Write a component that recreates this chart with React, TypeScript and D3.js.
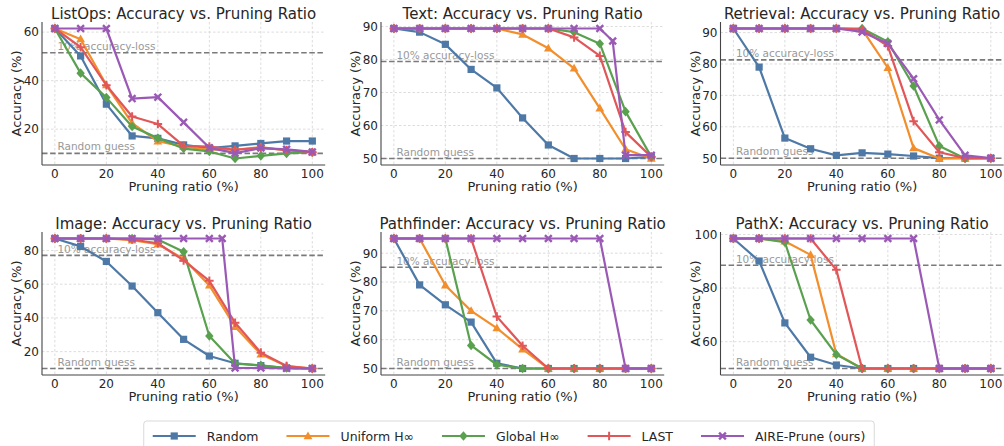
import React from "react";
import * as d3 from "d3";

// ---------- DATA ----------
const ratios = [0, 10, 20, 30, 40, 50, 60, 70, 80, 90, 100];
const textAireRatios = [0, 10, 20, 30, 40, 50, 60, 70, 80, 85, 90, 100];
const imageAireRatios = [0, 10, 20, 30, 40, 50, 60, 65, 70, 80, 90, 100];
const xTicks = [0, 20, 40, 60, 80, 100];

const seriesNames = ["Random", "Uniform H∞", "Global H∞", "LAST", "AIRE-Prune (ours)"];
const seriesColors = ["#4e79a7", "#f28e2b", "#59a14f", "#e15759", "#9b59b6"];
const seriesMarkers = ["square", "triangle", "diamond", "plus", "x"];

const listopsRandom = [61.5, 50.2, 30.3, 17.2, 16.2, 13.5, 12.2, 13.1, 14.1, 15.1, 15.1];
const listopsUniform = [61.5, 57.1, 38.2, 22.5, 15.0, 12.8, 11.5, 11.5, 12.6, 11.2, 10.5];
const listopsGlobal = [61.5, 43.1, 33.0, 21.1, 16.3, 12.0, 10.8, 7.9, 9.0, 10.0, 10.5];
const listopsLast = [61.5, 53.8, 38.1, 25.2, 22.1, 13.1, 12.8, 11.5, 12.3, 11.4, 10.5];
const listopsAire = [61.5, 61.5, 61.5, 32.6, 33.2, 22.8, 12.3, 10.1, 12.2, 11.7, 10.6];
const listopsTicks = [20, 40, 60];

const textRandom = [89.4, 88.3, 84.6, 77.0, 71.4, 62.3, 54.1, 50.0, 50.0, 50.0, 50.5];
const textUniform = [89.4, 89.4, 89.4, 89.4, 89.4, 87.6, 83.4, 77.3, 65.2, 52.8, 50.0];
const textGlobal = [89.4, 89.4, 89.4, 89.4, 89.4, 89.4, 89.4, 88.3, 84.8, 64.2, 50.5];
const textLast = [89.4, 89.4, 89.4, 89.4, 89.4, 89.4, 89.4, 86.7, 81.1, 58.0, 50.5];
const textAire = [89.4, 89.4, 89.4, 89.4, 89.4, 89.4, 89.4, 89.4, 89.4, 85.6, 51.0, 51.0];
const textTicks = [50, 60, 70, 80, 90];

const retrievalRandom = [91.3, 79.0, 56.4, 53.0, 50.9, 51.7, 51.3, 50.7, 50.0, 50.0, 50.0];
const retrievalUniform = [91.3, 91.3, 91.3, 91.3, 91.3, 91.0, 78.8, 53.2, 49.9, 50.0, 50.0];
const retrievalGlobal = [91.3, 91.3, 91.3, 91.3, 91.3, 91.3, 87.1, 73.0, 53.9, 49.9, 50.0];
const retrievalLast = [91.3, 91.3, 91.3, 91.3, 91.3, 91.0, 85.7, 61.8, 51.9, 50.0, 50.0];
const retrievalAire = [91.3, 91.3, 91.3, 91.3, 91.3, 90.2, 86.5, 75.3, 62.2, 50.9, 50.0];
const retrievalTicks = [50, 60, 70, 80, 90];

const imageRandom = [87.1, 82.4, 73.5, 58.9, 43.1, 27.3, 17.4, 13.1, 11.7, 10.3, 10.0];
const imageUniform = [87.1, 87.1, 87.1, 86.1, 83.7, 75.1, 59.3, 34.8, 18.4, 11.5, 10.0];
const imageGlobal = [87.1, 87.1, 87.1, 87.1, 86.5, 79.2, 29.3, 12.9, 11.9, 10.3, 10.0];
const imageLast = [87.1, 87.1, 87.1, 86.5, 84.3, 74.1, 62.0, 37.1, 19.4, 11.5, 10.0];
const imageAire = [87.1, 87.1, 87.1, 87.1, 87.1, 87.1, 87.1, 87.1, 10.3, 10.3, 10.1, 10.0];
const imageTicks = [20, 40, 60, 80];

const pathfinderRandom = [95.1, 79.0, 72.1, 66.1, 51.8, 50.0, 50.0, 50.0, 50.0, 50.0, 50.0];
const pathfinderUniform = [95.1, 95.1, 78.9, 70.0, 64.0, 56.7, 50.0, 50.0, 50.0, 50.0, 50.0];
const pathfinderGlobal = [95.1, 95.1, 95.1, 58.0, 51.3, 50.0, 50.0, 50.0, 50.0, 50.0, 50.0];
const pathfinderLast = [95.1, 95.1, 95.1, 95.1, 68.0, 57.9, 50.0, 50.0, 50.0, 50.0, 50.0];
const pathfinderAire = [95.1, 95.1, 95.1, 95.1, 95.1, 95.1, 95.1, 95.1, 95.1, 50.0, 50.0];
const pathfinderTicks = [50, 60, 70, 80, 90];

const pathxRandom = [98.5, 90.1, 67.0, 54.2, 51.3, 50.0, 50.0, 50.0, 50.0, 50.0, 50.0];
const pathxUniform = [98.5, 98.5, 97.5, 92.4, 55.4, 50.0, 50.0, 50.0, 50.0, 50.0, 50.0];
const pathxGlobal = [98.5, 98.5, 97.1, 68.1, 55.2, 50.0, 50.0, 50.0, 50.0, 50.0, 50.0];
const pathxLast = [98.5, 98.5, 98.5, 98.5, 86.8, 50.0, 50.0, 50.0, 50.0, 50.0, 50.0];
const pathxAire = [98.5, 98.5, 98.5, 98.5, 98.5, 98.5, 98.5, 98.5, 50.0, 50.0, 50.0];
const pathxTicks = [60, 80, 100];

const taskNames = ["ListOps", "Text", "Retrieval", "Image", "Pathfinder", "PathX"];
const chanceLevels = [10, 50, 50, 10, 50, 50];

type Series = { xs: number[]; ys: number[] };
type Panel = { name: string; chance: number; ticks: number[]; series: Series[] };

const mk = (ys: number[], xs: number[] = ratios): Series => ({ xs, ys });

const panels: Panel[] = [
  { name: taskNames[0], chance: chanceLevels[0], ticks: listopsTicks,
    series: [mk(listopsRandom), mk(listopsUniform), mk(listopsGlobal), mk(listopsLast), mk(listopsAire)] },
  { name: taskNames[1], chance: chanceLevels[1], ticks: textTicks,
    series: [mk(textRandom), mk(textUniform), mk(textGlobal), mk(textLast), mk(textAire, textAireRatios)] },
  { name: taskNames[2], chance: chanceLevels[2], ticks: retrievalTicks,
    series: [mk(retrievalRandom), mk(retrievalUniform), mk(retrievalGlobal), mk(retrievalLast), mk(retrievalAire)] },
  { name: taskNames[3], chance: chanceLevels[3], ticks: imageTicks,
    series: [mk(imageRandom), mk(imageUniform), mk(imageGlobal), mk(imageLast), mk(imageAire, imageAireRatios)] },
  { name: taskNames[4], chance: chanceLevels[4], ticks: pathfinderTicks,
    series: [mk(pathfinderRandom), mk(pathfinderUniform), mk(pathfinderGlobal), mk(pathfinderLast), mk(pathfinderAire)] },
  { name: taskNames[5], chance: chanceLevels[5], ticks: pathxTicks,
    series: [mk(pathxRandom), mk(pathxUniform), mk(pathxGlobal), mk(pathxLast), mk(pathxAire)] },
];

// ---------- LAYOUT ----------
const W = 1004;
const H = 446;
const FONT = "DejaVu Sans, sans-serif";
const colLefts = [42, 381, 720.5];
const rowTops = [22, 232];
const plotW = 283.2;
const plotH = 143;

function Marker({ type, x, y, color }: { type: string; x: number; y: number; color: string }) {
  if (type === "square") {
    return <rect x={x - 3.6} y={y - 3.6} width={7.2} height={7.2} fill={color} />;
  }
  if (type === "triangle") {
    return <path d={`M${x},${y - 4.6}L${x + 4.4},${y + 3.2}L${x - 4.4},${y + 3.2}Z`} fill={color} />;
  }
  if (type === "diamond") {
    return <path d={`M${x},${y - 4.8}L${x + 4.2},${y}L${x},${y + 4.8}L${x - 4.2},${y}Z`} fill={color} />;
  }
  if (type === "plus") {
    return (
      <path d={`M${x - 4.3},${y}L${x + 4.3},${y}M${x},${y - 4.3}L${x},${y + 4.3}`} stroke={color} strokeWidth={2} fill="none" />
    );
  }
  return (
    <path d={`M${x - 3.4},${y - 3.4}L${x + 3.4},${y + 3.4}M${x - 3.4},${y + 3.4}L${x + 3.4},${y - 3.4}`} stroke={color} strokeWidth={2.4} fill="none" />
  );
}

function PanelView({ panel, left, top }: { panel: Panel; left: number; top: number }) {
  const allY = panel.series.flatMap((s) => s.ys);
  const yMin = d3.min(allY) as number;
  const yMax = d3.max(allY) as number;
  const pad = (yMax - yMin) * 0.05;
  const x = d3.scaleLinear().domain([-5, 105]).range([left, left + plotW]);
  const y = d3.scaleLinear().domain([yMin - pad, yMax + pad]).range([top + plotH, top]);
  const bottom = top + plotH;
  const right = left + plotW;
  const full = panel.series[0].ys[0];
  const lossLevel = full - 10;
  const line = d3.line<[number, number]>().x((d) => x(d[0])).y((d) => y(d[1]));
  const gridStyle = { stroke: "#d4d4d4", strokeWidth: 0.8, strokeDasharray: "2.5,2" };
  return (
    <g>
      {xTicks.map((t) => (
        <line key={"gx" + t} x1={x(t)} x2={x(t)} y1={top} y2={bottom} {...gridStyle} />
      ))}
      {panel.ticks.map((t) => (
        <line key={"gy" + t} x1={left} x2={right} y1={y(t)} y2={y(t)} {...gridStyle} />
      ))}
      {/* reference line labels */}
      <text x={x(1)} y={y(lossLevel) - 2.5} fontSize={10.5} fill="#999" fontFamily={FONT}>
        10% accuracy-loss
      </text>
      <text x={x(1)} y={y(panel.chance) - 3} fontSize={10.5} fill="#999" fontFamily={FONT}>
        Random guess
      </text>
      <line x1={left} x2={right} y1={y(lossLevel)} y2={y(lossLevel)} stroke="#7a7a7a" strokeWidth={1.6} strokeDasharray="5.5,2.6" />
      <line x1={left} x2={right} y1={y(panel.chance)} y2={y(panel.chance)} stroke="#7a7a7a" strokeWidth={1.6} strokeDasharray="5.5,2.6" />
      {/* spines */}
      <line x1={left} x2={left} y1={top} y2={bottom} stroke="#444" strokeWidth={1.1} />
      <line x1={left} x2={right} y1={bottom} y2={bottom} stroke="#444" strokeWidth={1.1} />
      {/* series */}
      {panel.series.map((s, i) => {
        const pts = s.xs.map((xv, j) => [xv, s.ys[j]] as [number, number]);
        return (
          <g key={"s" + i}>
            <path d={line(pts) as string} fill="none" stroke={seriesColors[i]} strokeWidth={2.2} strokeLinejoin="round" />
            {pts.map((p, j) => (
              <Marker key={j} type={seriesMarkers[i]} x={x(p[0])} y={y(p[1])} color={seriesColors[i]} />
            ))}
          </g>
        );
      })}
      {/* ticks */}
      {xTicks.map((t) => (
        <text key={"tx" + t} x={x(t)} y={bottom + 12.5} textAnchor="middle" fontSize={12} fill="#262626" fontFamily={FONT}>
          {t}
        </text>
      ))}
      {panel.ticks.map((t) => (
        <text key={"ty" + t} x={left - 3} y={y(t)} dy="0.36em" textAnchor="end" fontSize={12} fill="#262626" fontFamily={FONT}>
          {t}
        </text>
      ))}
      {/* labels */}
      <text x={(left + right) / 2} y={bottom + 25.5} textAnchor="middle" fontSize={13} fill="#262626" fontFamily={FONT}>
        Pruning ratio (%)
      </text>
      <text
        transform={`translate(${left - 21},${(top + bottom) / 2}) rotate(-90)`}
        textAnchor="middle"
        fontSize={13}
        fill="#262626"
        fontFamily={FONT}
      >
        Accuracy (%)
      </text>
      <text x={(left + right) / 2} y={top - 3.5} textAnchor="middle" fontSize={15} fill="#262626" fontFamily={FONT}>
        {panel.name}: Accuracy vs. Pruning Ratio
      </text>
    </g>
  );
}

function Legend() {
  const fontSize = 12.5;
  let widths: number[] = seriesNames.map((n) => n.length * 7);
  if (typeof document !== "undefined") {
    const ctx = document.createElement("canvas").getContext("2d");
    if (ctx) {
      ctx.font = `${fontSize}px DejaVu Sans`;
      widths = seriesNames.map((n) => ctx.measureText(n).width);
    }
  }
  const lineLen = 43;
  const textGap = 11;
  const itemGap = 28;
  const padX = 9;
  const total = widths.reduce((a, w) => a + w + lineLen + textGap, 0) + itemGap * (widths.length - 1);
  const boxW = total + padX * 2;
  const boxX = 509 - boxW / 2;
  const cy = 436;
  let cx = boxX + padX;
  const items = seriesNames.map((n, i) => {
    const start = cx;
    cx += lineLen + textGap + widths[i] + itemGap;
    return { n, i, start };
  });
  return (
    <g>
      <rect x={boxX} y={421} width={boxW} height={32} rx={3} fill="#fff" stroke="#d9d9d9" strokeWidth={1} />
      {items.map(({ n, i, start }) => (
        <g key={n}>
          <line x1={start} x2={start + lineLen} y1={cy} y2={cy} stroke={seriesColors[i]} strokeWidth={2.2} />
          <Marker type={seriesMarkers[i]} x={start + lineLen / 2} y={cy} color={seriesColors[i]} />
          <text x={start + lineLen + textGap} y={cy} dy="0.36em" fontSize={fontSize} fill="#262626" fontFamily={FONT}>
            {n}
          </text>
        </g>
      ))}
    </g>
  );
}

export default function App() {
  return (
    <svg width={W} height={H} style={{ position: "absolute", left: 0, top: 0, background: "#fff" }}>
      <rect x={0} y={0} width={W} height={H} fill="#fff" />
      {panels.map((p, i) => (
        <PanelView key={p.name} panel={p} left={colLefts[i % 3]} top={rowTops[Math.floor(i / 3)]} />
      ))}
      <Legend />
    </svg>
  );
}
